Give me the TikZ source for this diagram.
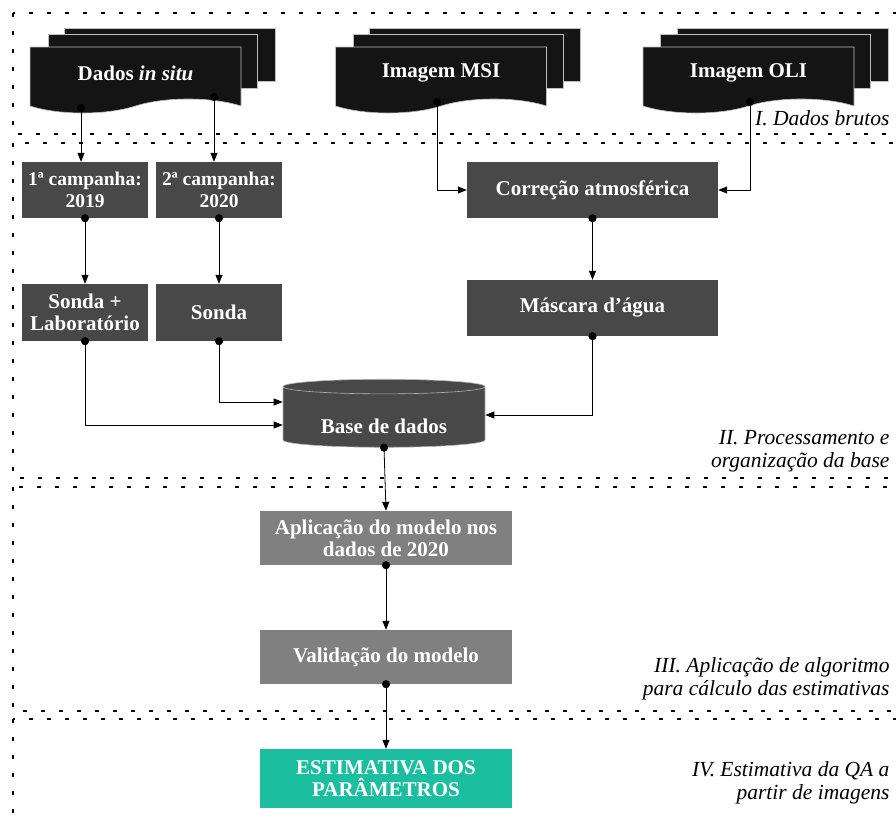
\documentclass[tikz,border=0pt]{standalone}
\usepackage{fontspec}
\setmainfont{Liberation Serif}
\usetikzlibrary{arrows.meta, positioning, shapes.geometric, shapes.symbols, calc}
\definecolor{procdark}{RGB}{72,72,72}
\definecolor{procmid}{RGB}{128,128,128}
\definecolor{sheetblk}{RGB}{20,20,20}
\definecolor{estteal}{RGB}{28,190,160}

\begin{document}
\begin{tikzpicture}[
  x=1pt, y=-1pt,
  proc/.style={fill=procdark, text=white, align=center,
    font=\fontsize{21}{22}\selectfont\bfseries, inner sep=2pt,
    minimum width=126pt, minimum height=56pt},
  procwide/.style={proc, minimum width=251pt},
  model/.style={proc, fill=procmid, minimum width=252pt, minimum height=54pt},
  result/.style={proc, fill=estteal, minimum width=252pt, minimum height=59pt},
  front/.style={tape, tape bend top=none, tape bend bottom=in and out,
    tape bend height=14pt, fill=sheetblk, draw=gray!50, line width=0.6pt,
    text=white, font=\fontsize{21}{22}\selectfont\bfseries,
    minimum width=211pt, minimum height=66pt},
  sheet/.style={fill=sheetblk, draw=gray!50, line width=0.6pt},
  dbase/.style={cylinder, shape border rotate=90, aspect=0.11,
    fill=procdark, draw=gray!60, line width=0.6pt, text=white,
    font=\fontsize{21}{22}\selectfont\bfseries,
    text height=36pt, text depth=5pt,
    minimum width=202pt, minimum height=68pt},
  band/.style={line width=2pt, dash pattern=on 4pt off 14pt},
  stage/.style={font=\fontsize{21.5}{22.5}\selectfont\itshape, align=right,
    anchor=east},
  flow/.style={{Circle[length=8pt]}-{Triangle[length=9pt, width=7pt]},
    shorten <=-4pt, line width=0.8pt}
]
\useasboundingbox (0,0) rectangle (896,823);
\clip (0,0) rectangle (896,823);
% Bands
\draw[band] (13,13) rectangle (910,134);
\draw[band] (13,143) rectangle (910,478);
\draw[band] (13,487) rectangle (910,711);
\draw[band] (13,719) rectangle (910,840);
% Raw data sheets
\draw[sheet] (64,28) rectangle (275,81);
\draw[sheet] (48,34) rectangle (257,88);
\node[front] (insitu) at (135.5,73) {Dados \textit{in situ}};
\draw[sheet] (369,28) rectangle (580,81);
\draw[sheet] (353,34) rectangle (563,88);
\node[front] (msi) at (441,73) {Imagem MSI};
\draw[sheet] (677,28) rectangle (888,81);
\draw[sheet] (660,34) rectangle (870,88);
\node[front] (oli) at (748.5,73) {Imagem OLI};
\coordinate (insitu1) at (81,108);
\coordinate (insitu2) at (214,97);
\coordinate (msi1) at (437,102);
\coordinate (oli1) at (750,102);
% Processing
\node[proc, font=\fontsize{19.5}{22}\selectfont\bfseries] (camp19) at (85,190) {1ª campanha:\\2019};
\node[proc, font=\fontsize{19.5}{22}\selectfont\bfseries] (camp20) at (219,190) {2ª campanha:\\2020};
\node[proc, minimum height=57pt] (sondlab) at (85,312.5) {Sonda +\\Laboratório};
\node[proc, minimum height=57pt] (sonda) at (219,312.5) {Sonda};
\node[procwide] (correc) at (592.5,190) {Correção atmosférica};
\node[procwide] (mascara) at (592.5,308) {Máscara d’água};
\node[dbase] (base) at (384,418) {Base de dados};
% Model
\node[model] (aplic) at (386,538) {Aplicação do modelo nos\\dados de 2020};
\node[model] (valid) at (386,657) {Validação do modelo};
\node[result] (estim) at (386,778.5) {ESTIMATIVA DOS\\PARÂMETROS};
% Stage labels
\node[stage] (st1) at (893,118) {I. Dados brutos};
\node[stage] (st2) at (893,451) {II. Processamento e\\organização da base};
\node[stage] (st3) at (893,679) {III. Aplicação de algoritmo\\para cálculo das estimativas};
\node[stage] (st4) at (893,783) {IV. Estimativa da QA a\\partir de imagens};
% Arrows
\draw[flow] (insitu1) -- (insitu1 |- camp19.north);
\draw[flow] (insitu2) -- (insitu2 |- camp20.north);
\draw[flow] (msi1) |- (correc.west);
\draw[flow] (oli1) |- (correc.east);
\draw[flow] (camp19.south) -- (sondlab.north);
\draw[flow] (camp20.south) -- (sonda.north);
\draw[flow] (correc.south) -- (mascara.north);
\draw[flow] (sondlab.south) |- ([yshift=-7pt]base.west);
\draw[flow] (sonda.south) |- ([yshift=16pt]base.west);
\draw[flow] (mascara.south) |- ([yshift=3pt]base.east);
\draw[flow] (base.south) -- (aplic.north);
\draw[flow] (aplic.south) -- (valid.north);
\draw[flow] (valid.south) -- (estim.north);
\end{tikzpicture}
\end{document}
